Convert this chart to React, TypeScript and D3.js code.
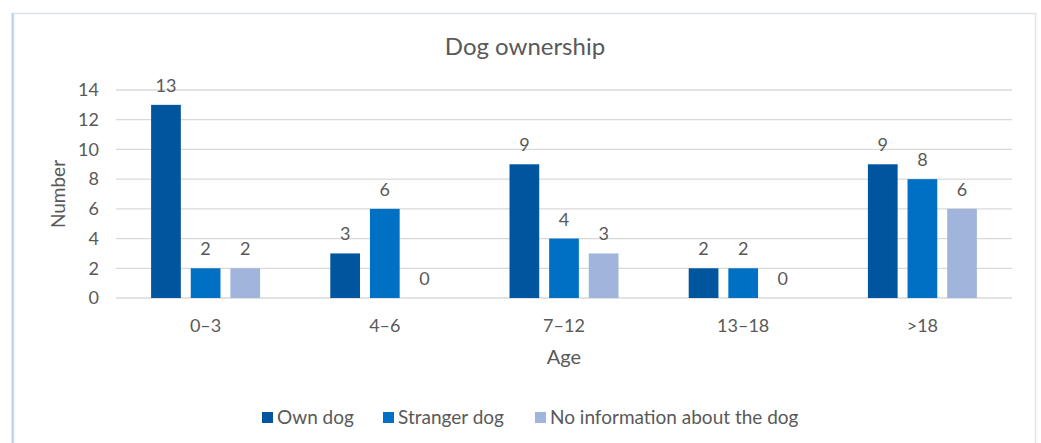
import React, { useEffect, useRef } from 'react';
import * as d3 from 'd3';

const ageGroups = ['0–3', '4–6', '7–12', '13–18', '>18'];
const seriesNames = ['Own dog', 'Stranger dog', 'No information about the dog'];
const ownDog = [13, 3, 9, 2, 9];
const strangerDog = [2, 6, 4, 2, 8];
const noInfo = [2, 0, 3, 0, 6];
const yTicks = [0, 2, 4, 6, 8, 10, 12, 14];
const colors = ['#00559F', '#0070C4', '#A1B5DC'];

const FONT = 'Lato, "Open Sans", sans-serif';
const TEXT = '#595959';

const App: React.FC = () => {
  const ref = useRef<SVGSVGElement>(null);

  useEffect(() => {
    if (!ref.current) return;
    const svg = d3.select(ref.current);
    svg.selectAll('*').remove();

    const H = 443;
    const plot = { left: 116, right: 1012, top: 90, bottom: 298 };

    // outer frame
    svg.append('rect')
      .attr('x', 13.5).attr('y', 13.5)
      .attr('width', 1022).attr('height', H)
      .attr('fill', '#fff')
      .attr('stroke', '#DEE3EA').attr('stroke-width', 1.5);
    svg.append('line')
      .attr('x1', 12.5).attr('x2', 12.5).attr('y1', 13).attr('y2', H)
      .attr('stroke', '#BCD0EE').attr('stroke-width', 2);

    const x0 = d3.scaleBand().domain(ageGroups).range([plot.left, plot.right]);
    const x1 = d3.scaleBand().domain(seriesNames)
      .range([x0.bandwidth() / 2 - 54.5, x0.bandwidth() / 2 + 54.5])
      .paddingInner(0.25);
    const y = d3.scaleLinear().domain([0, 14]).range([plot.bottom, plot.top]);

    // gridlines
    svg.append('g').selectAll('line').data(yTicks).enter().append('line')
      .attr('x1', plot.left).attr('x2', plot.right)
      .attr('y1', d => y(d)).attr('y2', d => y(d))
      .attr('stroke', '#D9D9D9').attr('stroke-width', 1.3);

    // y tick labels
    svg.append('g').selectAll('text').data(yTicks).enter().append('text')
      .attr('x', 99).attr('y', d => y(d))
      .attr('dy', '0.35em')
      .attr('text-anchor', 'end')
      .attr('font-family', FONT).attr('font-size', 18).attr('fill', TEXT)
      .text(d => d);

    const data = [ownDog, strangerDog, noInfo];
    seriesNames.forEach((name, si) => {
      const g = svg.append('g');
      g.selectAll('rect').data(data[si]).enter().append('rect')
        .attr('x', (_, i) => (x0(ageGroups[i]) || 0) + (x1(name) || 0))
        .attr('width', x1.bandwidth())
        .attr('y', d => y(d))
        .attr('height', d => y(0) - y(d))
        .attr('fill', colors[si]);
      g.selectAll('text').data(data[si]).enter().append('text')
        .attr('x', (_, i) => (x0(ageGroups[i]) || 0) + (x1(name) || 0) + x1.bandwidth() / 2)
        .attr('y', d => y(d) - 13)
        .attr('text-anchor', 'middle')
        .attr('font-family', FONT).attr('font-size', 18).attr('fill', TEXT)
        .text(d => d);
    });

    // category labels
    svg.append('g').selectAll('text').data(ageGroups).enter().append('text')
      .attr('x', d => (x0(d) || 0) + x0.bandwidth() / 2)
      .attr('y', 326).attr('dy', '0.35em')
      .attr('text-anchor', 'middle')
      .attr('font-family', FONT).attr('font-size', 18).attr('fill', TEXT)
      .text(d => d);

    // title and axis titles
    svg.append('text')
      .attr('x', 525).attr('y', 47).attr('dy', '0.35em')
      .attr('text-anchor', 'middle')
      .attr('font-family', FONT).attr('font-size', 24).attr('fill', TEXT)
      .text('Dog ownership');
    svg.append('text')
      .attr('x', (plot.left + plot.right) / 2).attr('y', 357).attr('dy', '0.35em')
      .attr('text-anchor', 'middle')
      .attr('font-family', FONT).attr('font-size', 20).attr('fill', TEXT)
      .text('Age');
    svg.append('text')
      .attr('transform', `translate(58,${(plot.top + plot.bottom) / 2}) rotate(-90)`)
      .attr('dy', '0.35em')
      .attr('text-anchor', 'middle')
      .attr('font-family', FONT).attr('font-size', 19).attr('fill', TEXT)
      .text('Number');

    // legend
    const legendX = [262, 383, 535];
    const lg = svg.append('g');
    seriesNames.forEach((name, i) => {
      lg.append('rect')
        .attr('x', legendX[i]).attr('y', 412)
        .attr('width', 11).attr('height', 11)
        .attr('fill', colors[i]);
      lg.append('text')
        .attr('x', legendX[i] + 15).attr('y', 417.5).attr('dy', '0.35em')
        .attr('font-family', FONT).attr('font-size', 19).attr('fill', TEXT)
        .text(name);
    });
  }, []);

  return (
    <div style={{ position: 'absolute', left: 0, top: 0, background: '#fff' }}>
      <svg ref={ref} width={1041} height={443} style={{ display: 'block' }} />
    </div>
  );
};

export default App;
